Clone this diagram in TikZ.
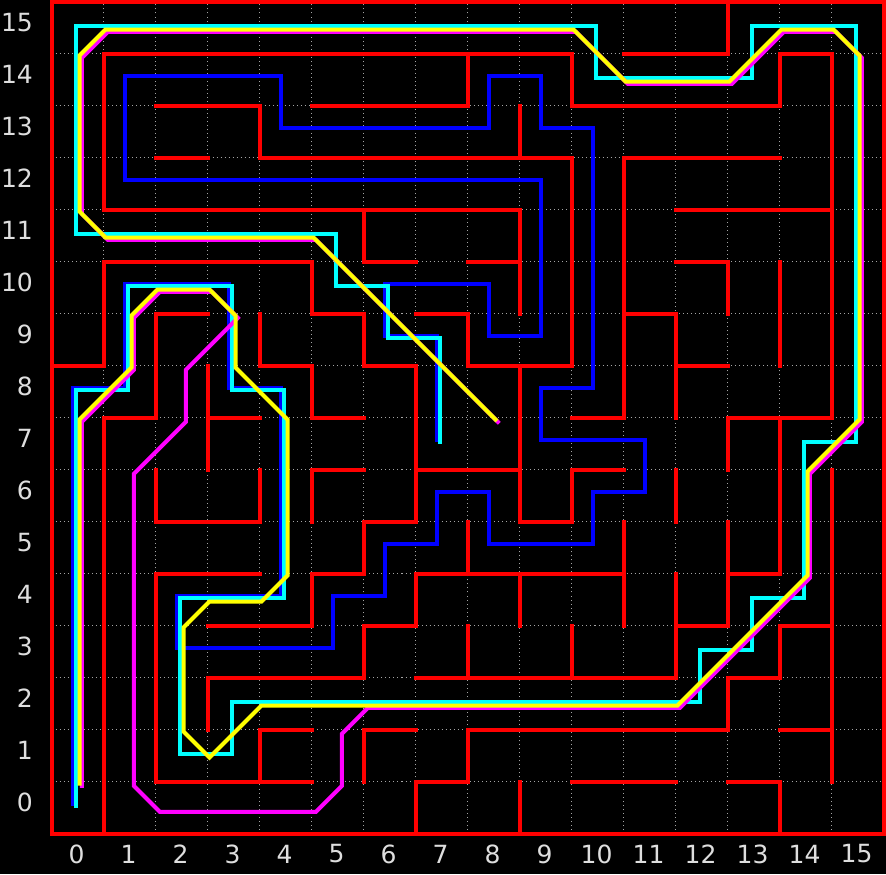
\documentclass[tikz,border=0pt]{standalone}
\usepackage{fontspec}
\setmainfont{DejaVu Sans}
\definecolor{gridgray}{RGB}{165,165,165}
\definecolor{labelgray}{RGB}{222,222,222}
\definecolor{wallred}{RGB}{255,0,0}
\definecolor{pathblue}{RGB}{0,0,255}
\definecolor{pathcyan}{RGB}{0,255,255}
\definecolor{pathmagenta}{RGB}{255,0,255}
\definecolor{pathyellow}{RGB}{255,255,0}

\begin{document}
\begin{tikzpicture}[
    wall/.style={draw=wallred, line width=2.2pt, line cap=rect},
    gridline/.style={draw=gridgray, line width=0.55pt, dash pattern=on 0.55pt off 1.65pt},
    route/.style={line width=2.2pt, line cap=rect},
    ticklbl/.style={font=\fontsize{13.7}{16}\selectfont, text=labelgray, inner sep=0pt}
]
\useasboundingbox (-1.494,-1.275) rectangle (15.544,15.533);
\fill[black] (-1.494,-1.275) rectangle (15.544,15.533);

% Grid
\foreach \k in {0,...,16} {
  \draw[gridline] (\k-0.5,-0.5) -- (\k-0.5,15.5);
  \draw[gridline] (-0.5,\k-0.5) -- (15.5,\k-0.5);
}

% Walls
\begin{scope}[shift={(-0.5,-0.5)}]
  \draw[wall] (0,0) rectangle (16,16);
  \draw[wall] (1,12) -- (1,15) -- (10,15) -- (10,14) -- (14,14) -- (14,15) -- (15,15) -- (15,8);
  \draw[wall] (1,12) -- (9,12) -- (9,10);
  \draw[wall] (2,14) -- (4,14) -- (4,13) -- (10,13) -- (10,9);
  \draw[wall] (2,13) -- (3,13);
  \draw[wall] (5,14) -- (8,14) -- (8,15);
  \draw[wall] (9,14) -- (9,13);
  \draw[wall] (6,12) -- (6,11) -- (7,11);
  \draw[wall] (8,11) -- (9,11);
  \draw[wall] (0,9) -- (1,9) -- (1,11) -- (5,11) -- (5,10) -- (6,10) -- (6,9) -- (7,9) -- (7,6) -- (6,6) -- (6,5) -- (5,5) -- (5,4) -- (3,4);
  \draw[wall] (13,16) -- (13,15) -- (11,15);
  \draw[wall] (10,8) -- (11,8) -- (11,13) -- (14,13);
  \draw[wall] (12,12) -- (15,12);
  \draw[wall] (12,11) -- (13,11) -- (13,10);
  \draw[wall] (14,11) -- (14,9);
  \draw[wall] (3,10) -- (2,10) -- (2,8) -- (1,8) -- (1,0);
  \draw[wall] (3,9) -- (3,7);
  \draw[wall] (3,8) -- (4,8);
  \draw[wall] (4,10) -- (4,9) -- (5,9) -- (5,8) -- (6,8);
  \draw[wall] (2,7) -- (2,6) -- (4,6) -- (4,7);
  \draw[wall] (4,5) -- (2,5) -- (2,1) -- (5,1);
  \draw[wall] (7,10) -- (8,10) -- (8,9) -- (10,9);
  \draw[wall] (9,9) -- (9,6) -- (10,6) -- (10,7) -- (11,7);
  \draw[wall] (6,7) -- (5,7) -- (5,6);
  \draw[wall] (7,7) -- (9,7);
  \draw[wall] (8,6) -- (8,5);
  \draw[wall] (3,2) -- (3,3) -- (6,3) -- (6,4) -- (7,4) -- (7,5) -- (11,5);
  \draw[wall] (9,5) -- (9,4);
  \draw[wall] (11,10) -- (12,10) -- (12,8);
  \draw[wall] (12,9) -- (13,9);
  \draw[wall] (13,7) -- (13,8) -- (15,8);
  \draw[wall] (14,8) -- (14,5) -- (13,5);
  \draw[wall] (11,6) -- (11,4);
  \draw[wall] (12,7) -- (12,6);
  \draw[wall] (13,6) -- (13,4) -- (12,4);
  \draw[wall] (15,7) -- (15,1);
  \draw[wall] (12,5) -- (12,3) -- (7,3);
  \draw[wall] (5,2) -- (4,2) -- (4,1);
  \draw[wall] (8,4) -- (8,3);
  \draw[wall] (10,4) -- (10,3);
  \draw[wall] (7,2) -- (6,2) -- (6,1);
  \draw[wall] (13,2) -- (8,2) -- (8,1) -- (7,1) -- (7,0);
  \draw[wall] (9,1) -- (9,0);
  \draw[wall] (10,1) -- (12,1);
  \draw[wall] (15,4) -- (14,4) -- (14,3) -- (13,3) -- (13,2);
  \draw[wall] (14,2) -- (15,2);
  \draw[wall] (13,1) -- (14,1) -- (14,0);
\end{scope}

% Search path
\draw[route, pathblue, shift={(-0.085,0.075)}] (0,0) -- (0,8) -- (1,8) -- (1,10) -- (3,10) -- (3,8) -- (4,8) -- (4,4) -- (2,4) -- (2,3) -- (5,3) -- (5,4) -- (6,4) -- (6,5) -- (7,5) -- (7,6) -- (8,6) -- (8,5) -- (10,5) -- (10,6) -- (11,6) -- (11,7) -- (9,7) -- (9,8) -- (10,8) -- (10,13) -- (9,13) -- (9,14) -- (8,14) -- (8,13) -- (4,13) -- (4,14) -- (1,14) -- (1,12) -- (9,12) -- (9,9) -- (8,9) -- (8,10) -- (6,10) -- (6,9) -- (7,9) -- (7,7);

% Grid path
\draw[route, pathcyan, shift={(-0.03,0.03)}] (0,0) -- (0,8) -- (1,8) -- (1,10) -- (3,10) -- (3,8) -- (4,8) -- (4,4) -- (2,4) -- (2,1) -- (3,1) -- (3,2) -- (12,2) -- (12,3) -- (13,3) -- (13,4) -- (14,4) -- (14,7) -- (15,7) -- (15,15) -- (13,15) -- (13,14) -- (10,14) -- (10,15) -- (0,15) -- (0,11) -- (5,11) -- (5,10) -- (6,10) -- (6,9) -- (7,9) -- (7,7);

% Smoothed paths
\draw[route, pathmagenta, shift={(0.08,-0.08)}] (0,0.5) -- (0,7.5) -- (1,8.5) -- (1,9.5) -- (1.5,10) -- (2.5,10) -- (3,9.5) -- (2,8.5) -- (2,7.5) -- (1,6.5) -- (1,0.5) -- (1.5,0) -- (4.5,0) -- (5,0.5) -- (5,1.5) -- (5.5,2) -- (11.5,2) -- (14,4.5) -- (14,6.5) -- (15,7.5) -- (15,14.5) -- (14.5,15) -- (13.5,15) -- (12.5,14) -- (10.5,14) -- (9.5,15) -- (0.5,15) -- (0,14.5) -- (0,11.5) -- (0.5,11) -- (4.5,11) -- (8,7.5);
\draw[route, pathyellow, shift={(0.035,-0.035)}] (0,0.5) -- (0,7.5) -- (1,8.5) -- (1,9.5) -- (1.5,10) -- (2.5,10) -- (3,9.5) -- (3,8.5) -- (4,7.5) -- (4,4.5) -- (3.5,4) -- (2.5,4) -- (2,3.5) -- (2,1.5) -- (2.5,1) -- (3.5,2) -- (11.5,2) -- (14,4.5) -- (14,6.5) -- (15,7.5) -- (15,14.5) -- (14.5,15) -- (13.5,15) -- (12.5,14) -- (10.5,14) -- (9.5,15) -- (0.5,15) -- (0,14.5) -- (0,11.5) -- (0.5,11) -- (4.5,11) -- (8,7.5);

% Axis labels
\foreach \i in {0,...,15} {
  \node[ticklbl] (xl\i) at (\i-0.02,-0.89) {\i};
  \node[ticklbl, anchor=east] (yl\i) at (-0.854,\i+0.1) {\i};
}

\end{tikzpicture}
\end{document}
